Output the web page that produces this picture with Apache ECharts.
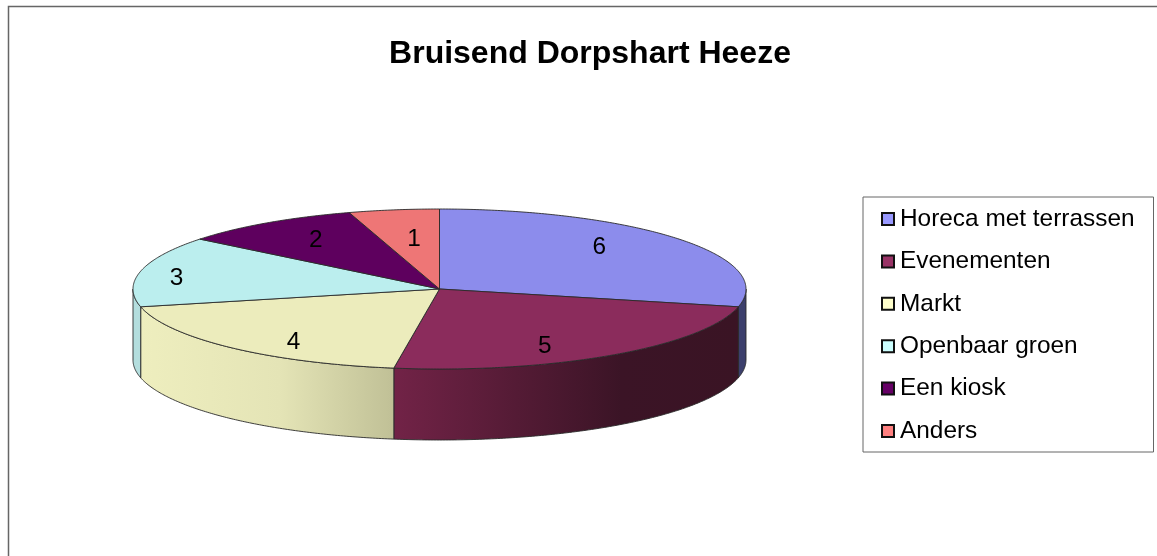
<!DOCTYPE html>
<html>
<head>
<meta charset="utf-8">
<style>html,body{margin:0;padding:0;background:#fff}#c{width:1157px;height:556px}</style>
<script src="https://cdn.jsdelivr.net/npm/echarts@6/dist/echarts.min.js"></script>
</head>
<body>
<div id="c"></div>
<script>
const titleText = 'Bruisend Dorpshart Heeze';
const categories = ['Horeca met terrassen', 'Evenementen', 'Markt', 'Openbaar groen', 'Een kiosk', 'Anders'];
const values = [6, 5, 4, 3, 2, 1];
const legendColors = ['#9999FF', '#993366', '#FFFFCC', '#CCFFFF', '#660066', '#FF8080'];
const topColors = ['#8C8CEC', '#8B2C5C', '#ECECBC', '#BBEEEE', '#5E005E', '#EE7676'];
const wallStops = [
  [[0, '#3C3F6C'], [1, '#3C3F6C']],
  [[0, '#722347'], [0.66, '#3B1426'], [1, '#3A1424']],
  [[0, '#EEEEBE'], [0.55, '#E4E4B6'], [1, '#C0C096']],
  [[0, '#B4DEDE'], [1, '#B4DEDE']],
  [[0, '#5E005E'], [1, '#5E005E']],
  [[0, '#EE7676'], [1, '#EE7676']]
];
// label placement as a fraction of the horizontal / vertical radius along each slice's mid-angle
const labelFractions = [[0.667, 0.86], [0.61, 0.85], [0.70, 0.89], [0.88, 0.67], [0.716, 0.756], [0.56, 0.645]];

const pie = { cx: 439.5, cy: 289, rx: 306.5, ry: 80, depth: 71 };
const total = values.reduce((a, b) => a + b, 0);
const toAngle = v => v / total * 2 * Math.PI;
const edge = (a, dy) => [pie.cx + Math.sin(a) * pie.rx, pie.cy - Math.cos(a) * pie.ry + (dy || 0)];

function arcPoints(a0, a1, dy) {
  const n = Math.max(2, Math.ceil((a1 - a0) / 0.01));
  const pts = [];
  for (let i = 0; i <= n; i++) pts.push(edge(a0 + (a1 - a0) * i / n, dy));
  return pts;
}

function makeRender(index) {
  const start = toAngle(values.slice(0, index).reduce((a, b) => a + b, 0));
  return function (params, api) {
    const end = start + toAngle(api.value(0));
    const children = [];
    const stroke = { stroke: '#2a2a2a', lineWidth: 0.9, lineJoin: 'round' };
    const w0 = Math.max(start, Math.PI / 2), w1 = Math.min(end, Math.PI * 1.5);
    if (w1 > w0) {
      const topArc = arcPoints(w0, w1, 0);
      const botArc = arcPoints(w0, w1, pie.depth).reverse();
      const grad = new echarts.graphic.LinearGradient(0, 0, 1, 0,
        wallStops[index].map(s => ({ offset: s[0], color: s[1] })));
      children.push({
        type: 'polygon',
        shape: { points: topArc.concat(botArc) },
        style: Object.assign({ fill: grad }, stroke)
      });
    }
    children.push({
      type: 'polygon',
      shape: { points: [[pie.cx, pie.cy]].concat(arcPoints(start, end, 0)) },
      style: Object.assign({ fill: topColors[index] }, stroke)
    });
    const mid = (start + end) / 2;
    const f = labelFractions[index];
    children.push({
      type: 'text',
      x: pie.cx + Math.sin(mid) * pie.rx * f[0],
      y: pie.cy - Math.cos(mid) * pie.ry * f[1] + 1,
      style: {
        text: String(api.value(0)), fill: '#000',
        font: '24.4px "Liberation Sans", Arial, sans-serif',
        align: 'center', verticalAlign: 'middle'
      }
    });
    return { type: 'group', children };
  };
}

const chart = echarts.init(document.getElementById('c'), null, { renderer: 'canvas' });
chart.setOption({
  animation: false,
  backgroundColor: '#fff',
  title: {
    text: titleText, left: 585, top: 33, textAlign: 'center',
    textStyle: { fontFamily: '"Liberation Sans", Arial, sans-serif', fontSize: 32, fontWeight: 'bold', color: '#000' }
  },
  legend: {
    orient: 'vertical', left: 863, top: 197,
    padding: [10, 19, 9, 18],
    borderColor: '#666', borderWidth: 1,
    icon: 'rect', itemWidth: 12, itemHeight: 12, itemGap: 18.4,
    selectedMode: false,
    itemStyle: { borderColor: '#111', borderWidth: 2 },
    textStyle: { fontFamily: '"Liberation Sans", Arial, sans-serif', fontSize: 24.4, color: '#000', padding: [0, 0, 0, 1] },
    data: categories
  },
  graphic: [{
    type: 'rect', silent: true, z: -1,
    shape: { x: 8.5, y: 6.5, width: 1300, height: 800 },
    style: { fill: 'none', stroke: '#666', lineWidth: 1.5 }
  }],
  series: categories.map((name, i) => ({
    type: 'custom', name, coordinateSystem: 'none',
    itemStyle: { color: legendColors[i] },
    renderItem: makeRender(i),
    data: [[values[i]]]
  }))
});
</script>
</body>
</html>
